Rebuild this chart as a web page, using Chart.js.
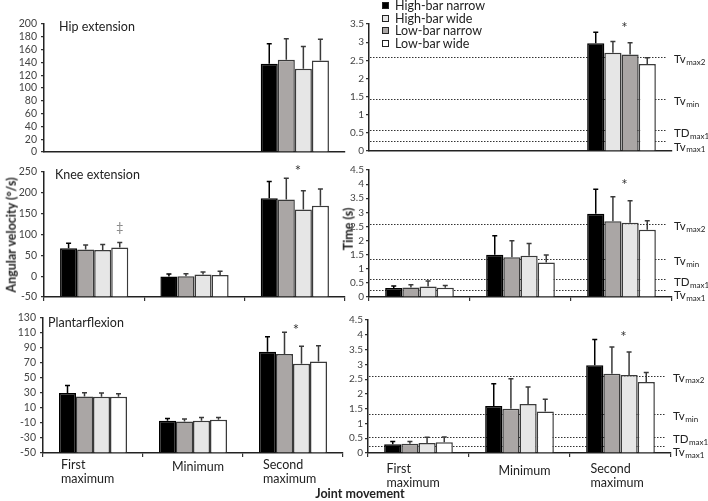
<!DOCTYPE html>
<html lang="en">
<head>
<meta charset="UTF-8">
<title>Joint angular velocity and timing</title>
<script src="https://cdn.jsdelivr.net/npm/chart.js@4.4.0/dist/chart.umd.min.js"></script>
<style>
    body { margin: 0; background: #fff; font-family: Lato, "Open Sans", sans-serif; color: #222; }
    #wrap { position: relative; width: 708px; height: 501px; overflow: hidden; }
    #wrap canvas { position: absolute; left: 0; top: 0; }
    .txt { position: absolute; white-space: nowrap; line-height: 1; }
    .rot { transform: translate(-50%, -50%) rotate(-90deg); font-weight: bold; font-size: 12.5px; }
    .legend { position: absolute; left: 382px; top: 0px; font-size: 12.5px; line-height: 12.7px; }
    .legend span { display: inline-block; width: 5px; height: 5px; border: 1px solid #222; margin-right: 6px; vertical-align: 1px; }
</style>
</head>
<body>
<div id="wrap">
    <canvas id="c0" width="708" height="501"></canvas>
    <canvas id="c1" width="708" height="501"></canvas>
    <canvas id="c2" width="708" height="501"></canvas>
    <canvas id="c3" width="708" height="501"></canvas>
    <canvas id="c4" width="708" height="501"></canvas>
    <canvas id="c5" width="708" height="501"></canvas>

    <div class="txt" style="left:59px;top:21px;font-size:12.5px">Hip extension</div>
    <div class="txt" style="left:55px;top:169px;font-size:12.5px">Knee extension</div>
    <div class="txt" style="left:48px;top:317px;font-size:12.5px">Plantarflexion</div>
    <div class="txt rot" style="left:12px;top:235px">Angular velocity (°/s)</div>
    <div class="txt rot" style="left:349px;top:229px">Time (s)</div>
    <div class="txt" style="left:360px;top:494px;transform:translate(-50%,-50%);font-weight:bold;font-size:12.5px">Joint movement</div>
    <div class="legend">
        <div><span style="background:#000"></span>High-bar narrow</div>
        <div><span style="background:#e6e6e6"></span>High-bar wide</div>
        <div><span style="background:#aaa6a5"></span>Low-bar narrow</div>
        <div><span style="background:#fff"></span>Low-bar wide</div>
    </div>
</div>

<script>
var categories = ['First maximum', 'Minimum', 'Second maximum'];
var categoryLines = [['First', 'maximum'], ['Minimum'], ['Second', 'maximum']];

// angular velocity (deg/s), four bars per movement, left to right
var hipVelMean = [[null, null, 138], [null, null, 144], [null, null, 130], [null, null, 143]];
var hipVelSd = [[0, 0, 31], [0, 0, 33], [0, 0, 35], [0, 0, 33]];
var kneeVelMean = [[67, -1, 187], [64, 0, 184], [63, 4, 160], [69, 3, 169]];
var kneeVelSd = [[12, 6, 40], [11, 6, 51], [13, 6, 45], [12, 9, 40]];
var plantarVelMean = [[30, -7, 85], [25.5, -8, 82], [25, -7, 69], [25, -5.5, 72]];
var plantarVelSd = [[10, 3, 20], [5, 3.5, 29], [5, 4.5, 23.5], [4, 3, 21]];

// time (s)
var hipTimeMean = [[null, null, 2.97], [null, null, 2.71], [null, null, 2.66], [null, null, 2.40]];
var hipTimeSd = [[0, 0, 0.30], [0, 0, 0.31], [0, 0, 0.32], [0, 0, 0.17]];
var kneeTimeMean = [[0.32, 1.50, 2.95], [0.34, 1.41, 2.68], [0.37, 1.46, 2.63], [0.33, 1.22, 2.38]];
var kneeTimeSd = [[0.07, 0.67, 0.87], [0.09, 0.58, 0.87], [0.20, 0.44, 0.78], [0.08, 0.27, 0.32]];
var plantarTimeMean = [[0.30, 1.59, 2.97], [0.31, 1.50, 2.68], [0.34, 1.66, 2.64], [0.36, 1.40, 2.40]];
var plantarTimeSd = [[0.09, 0.75, 0.87], [0.08, 1.01, 0.91], [0.19, 0.57, 0.78], [0.18, 0.42, 0.32]];

// reference times: Tv max2, Tv min, TD max1, Tv max1
var refNames = [['Tv', 'max2'], ['Tv', 'min'], ['TD', 'max1'], ['Tv', 'max1']];
var hipRefs = [2.59, 1.43, 0.58, 0.28];
var kneeRefs = [2.57, 1.33, 0.63, 0.26];
var plantarRefs = [2.61, 1.31, 0.55, 0.22];

var fillsA = ['#000000', '#aaa6a5', '#e6e6e6', '#ffffff'];
var fillsB = ['#000000', '#e6e6e6', '#aaa6a5', '#ffffff'];

Chart.defaults.font.family = 'Lato, "Open Sans", sans-serif';
Chart.defaults.animation = false;

var extras = {
    id: 'extras',
    beforeDatasetsDraw: function (chart, args, o) {
        if (!o.refs) return;
        var ctx = chart.ctx, y = chart.scales.y, a = chart.chartArea;
        ctx.save();
        ctx.setLineDash([1.5, 1.5]);
        ctx.lineWidth = 1.1;
        ctx.strokeStyle = '#333';
        o.refs.forEach(function (v) {
            var py = Math.round(y.getPixelForValue(v)) + 0.5;
            ctx.beginPath();
            ctx.moveTo(a.left + 1, py);
            ctx.lineTo(a.right - 5, py);
            ctx.stroke();
        });
        ctx.restore();
    },
    afterDatasetsDraw: function (chart, args, o) {
        var ctx = chart.ctx, y = chart.scales.y, x = chart.scales.x, a = chart.chartArea;
        ctx.save();
        // error bars, upward only
        chart.data.datasets.forEach(function (ds, di) {
            chart.getDatasetMeta(di).data.forEach(function (bar, i) {
                var v = ds.data[i];
                if (v == null) return;
                var y0 = y.getPixelForValue(v), y1 = y.getPixelForValue(v + ds.sd[i]);
                ctx.strokeStyle = di === 0 ? '#000' : '#3a3a3a';
                ctx.lineWidth = 1.5;
                ctx.beginPath();
                ctx.moveTo(bar.x, y0);
                ctx.lineTo(bar.x, y1);
                ctx.moveTo(bar.x - 2.5, y1);
                ctx.lineTo(bar.x + 2.5, y1);
                ctx.stroke();
            });
        });
        // reference labels
        if (o.refs) {
            var offs = [2, 2, 3, 6];
            ctx.fillStyle = '#222';
            ctx.textBaseline = 'middle';
            ctx.textAlign = 'left';
            o.refs.forEach(function (v, i) {
                var py = y.getPixelForValue(v) + offs[i];
                ctx.font = '11.5px Lato, sans-serif';
                ctx.fillText(refNames[i][0], a.right + 2, py);
                var w = ctx.measureText(refNames[i][0]).width;
                ctx.font = '8px Lato, sans-serif';
                ctx.fillText(refNames[i][1], a.right + 2.5 + w, py + 3);
            });
        }
        // significance marks
        (o.marks || []).forEach(function (m) {
            var px = m.ds < 0 ? x.getPixelForValue(m.cat) + 3 : chart.getDatasetMeta(m.ds).data[m.cat].x;
            ctx.fillStyle = m.color || '#333';
            ctx.font = m.ds < 0 ? '15px Lato, sans-serif' : '13px Lato, sans-serif';
            ctx.textAlign = 'center';
            ctx.textBaseline = 'middle';
            ctx.fillText(m.text, px, y.getPixelForValue(m.value));
        });
        // category labels on the bottom row
        if (o.catTop) {
            ctx.fillStyle = '#222';
            ctx.font = '12.5px Lato, sans-serif';
            ctx.textAlign = 'left';
            ctx.textBaseline = 'middle';
            var shift = [-32, -21, -30];
            categoryLines.forEach(function (lines, i) {
                var px = x.getPixelForValue(i) + shift[i];
                lines.forEach(function (t, k) {
                    var dy = lines.length === 1 ? 2 : 0;
                    ctx.fillText(t, px, a.bottom + o.catTop + dy + k * 14);
                });
            });
        }
        ctx.restore();
    }
};

function makePanel(id, box, yMin, yMax, yStep, mean, sd, fills, opts) {
    var datasets = mean.map(function (vals, k) {
        return {
            data: vals,
            sd: sd[k],
            base: yMin,
            backgroundColor: fills[k],
            borderColor: k === 0 ? '#000' : '#3a3a3a',
            borderWidth: 1.5,
            borderSkipped: 'start',
            categoryPercentage: 0.68,
            barPercentage: 1.0
        };
    });
    var right = box[0] > 300;
    new Chart(document.getElementById(id), {
        type: 'bar',
        data: { labels: categories, datasets: datasets },
        options: {
            responsive: false,
            layout: { padding: { left: box[0] - 40, top: box[1], right: 708 - box[2], bottom: 501 - box[3] - 10 } },
            plugins: { legend: { display: false }, tooltip: { enabled: false }, extras: opts },
            scales: {
                x: {
                    afterFit: function (s) { s.height = 10; },
                    ticks: { display: false },
                    grid: { drawOnChartArea: false, drawTicks: !!opts.catTicks, tickLength: 4, color: '#333', lineWidth: 1.2 },
                    border: { color: '#222', width: 1.5 }
                },
                y: {
                    min: yMin, max: yMax,
                    afterFit: function (s) { s.width = 40; },
                    ticks: {
                        stepSize: yStep, autoSkip: false, padding: right ? 2 : 4, color: '#444',
                        font: { size: right ? 10 : 10.5 },
                        callback: function (v) { return String(Math.round(v * 10) / 10); }
                    },
                    grid: { drawOnChartArea: false, tickLength: 3, color: '#333', lineWidth: 1.2 },
                    border: { color: '#222', width: 1.5 }
                }
            }
        },
        plugins: [extras]
    });
}

makePanel('c0', [44, 24, 345, 152], 0, 200, 20, hipVelMean, hipVelSd, fillsA, {});
makePanel('c1', [369, 24, 672, 151], 0, 3.5, 0.5, hipTimeMean, hipTimeSd, fillsB,
    { refs: hipRefs, marks: [{ cat: 2, ds: -1, value: 3.39, text: '*' }] });
makePanel('c2', [44, 172, 345, 297], -50, 250, 50, kneeVelMean, kneeVelSd, fillsA,
    { catTicks: true, marks: [{ cat: 2, ds: -1, value: 252, text: '*' }, { cat: 0, ds: 3, value: 115, text: '‡', color: '#888' }] });
makePanel('c3', [369, 170, 672, 297], 0, 4.5, 0.5, kneeTimeMean, kneeTimeSd, fillsA,
    { catTicks: true, refs: kneeRefs, marks: [{ cat: 2, ds: -1, value: 3.96, text: '*' }] });
makePanel('c4', [43, 318, 343, 453], -50, 130, 20, plantarVelMean, plantarVelSd, fillsA,
    { catTicks: true, catTop: 12, marks: [{ cat: 2, ds: -1, value: 114, text: '*' }] });
makePanel('c5', [368, 320, 671, 453], 0, 4.5, 0.5, plantarTimeMean, plantarTimeSd, fillsA,
    { catTicks: true, catTop: 16, refs: plantarRefs, marks: [{ cat: 2, ds: -1, value: 3.92, text: '*' }] });
</script>
</body>
</html>
